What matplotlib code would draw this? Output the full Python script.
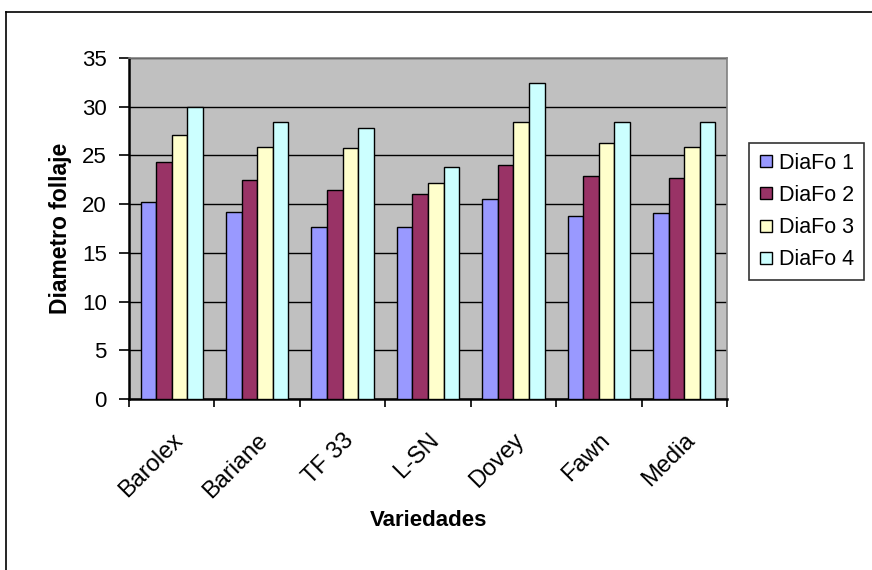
import numpy as np
import matplotlib.pyplot as plt
from matplotlib.lines import Line2D

plt.rcParams['font.family'] = ['Liberation Sans', 'DejaVu Sans']

# Diametro de follaje por variedad, cuatro mediciones
variedades = ['Barolex', 'Bariane', 'TF 33', 'L-SN', 'Dovey', 'Fawn', 'Media']
series = ['DiaFo 1', 'DiaFo 2', 'DiaFo 3', 'DiaFo 4']
diafo1 = [20.2, 19.2, 17.7, 17.7, 20.5, 18.8, 19.1]
diafo2 = [24.3, 22.5, 21.5, 21.0, 24.0, 22.9, 22.7]
diafo3 = [27.1, 25.9, 25.8, 22.2, 28.4, 26.3, 25.9]
diafo4 = [30.0, 28.4, 27.8, 23.8, 32.4, 28.4, 28.4]
colores = ['#9999FF', '#993366', '#FFFFCC', '#CCFFFF']

fig = plt.figure(figsize=(8.72, 5.70), dpi=100)
ax = fig.add_axes([129 / 872, 1 - 399 / 570, 598 / 872, 341 / 570])
ax.set_facecolor('#C0C0C0')

x = np.arange(len(variedades))
ancho = 0.182
for i, (valores, nombre) in enumerate(zip([diafo1, diafo2, diafo3, diafo4], series)):
    ax.bar(x + (i - 1.5) * ancho, valores, ancho, color=colores[i],
           edgecolor='black', linewidth=1.0, label=nombre, zorder=3)

ax.set_xlim(-0.5, len(variedades) - 0.5)
ax.set_ylim(0, 35)
ax.set_yticks(np.arange(0, 36, 5))
ax.yaxis.grid(True, color='black', linewidth=1.0, zorder=1)
ax.set_axisbelow(True)

# ticks del eje x entre categorias, etiquetas centradas
ax.set_xticks(np.arange(-0.5, len(variedades)), minor=False)
ax.set_xticklabels([])
ax.set_xticks(x, minor=True)
ax.set_xticklabels(variedades, minor=True, rotation=45, ha='right',
                   rotation_mode='anchor', fontsize=17)
ax.tick_params(axis='x', which='minor', length=0, pad=22)
ax.tick_params(axis='x', which='major', direction='out', length=6, width=1.2)
ax.tick_params(axis='y', direction='out', length=7, width=1.2, labelsize=16, pad=9)

for lado in ['left', 'bottom']:
    ax.spines[lado].set_linewidth(1.8)
    ax.spines[lado].set_color('black')
for lado in ['top', 'right']:
    ax.spines[lado].set_linewidth(1.2)
    ax.spines[lado].set_color('#808080')

ax.set_ylabel('Diametro follaje', fontsize=16.5, fontweight='bold', labelpad=7)
fig.text(429 / 872, 1 - 521 / 570, 'Variedades', fontsize=16,
         fontweight='bold', ha='center', va='center')

handles = [Line2D([], [], marker='s', linestyle='none', markersize=9,
                  markerfacecolor=c, markeredgecolor='black', markeredgewidth=1.0)
           for c in colores]
leg = fig.legend(handles, series, loc='upper left',
                 bbox_to_anchor=(749 / 872, 1 - 143 / 570), fontsize=15.5,
                 frameon=True, fancybox=False, handlelength=0.7,
                 handletextpad=0.25, borderpad=0.45, labelspacing=0.52,
                 borderaxespad=0)
leg.get_frame().set_edgecolor('black')
leg.get_frame().set_linewidth(1.2)

# marco exterior del grafico
fig.add_artist(Line2D([6 / 872, 1], [1 - 12 / 570, 1 - 12 / 570],
                      color='black', linewidth=1.2, transform=fig.transFigure))
fig.add_artist(Line2D([6 / 872, 6 / 872], [0, 1 - 12 / 570],
                      color='black', linewidth=1.2, transform=fig.transFigure))

fig.savefig('out.png', dpi=100)
